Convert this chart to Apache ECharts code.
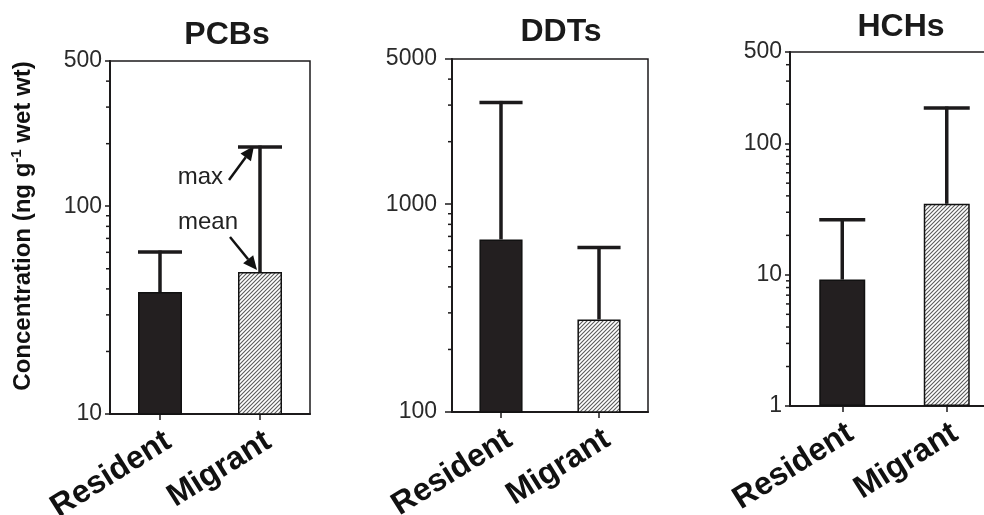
<!DOCTYPE html>
<html>
<head>
<meta charset="utf-8">
<script src="https://cdn.jsdelivr.net/npm/echarts@6/dist/echarts.min.js"></script>
<style>
html,body{margin:0;padding:0;background:#fff;}
#main{width:984px;height:515px;}
</style>
</head>
<body>
<div id="main"></div>
<script>
// ---- data ----
var categories = ['Resident', 'Migrant'];
var panelTitles = ['PCBs', 'DDTs', 'HCHs'];
var pcbMean = [38.6, 48.2];
var pcbMax = [60.2, 192.7];
var ddtMean = [677, 279];
var ddtMax = [3090, 619];
var hchMean = [9.2, 34.8];
var hchMax = [26.3, 187];
var yMins = [10, 100, 1];
var yMaxs = [500, 5000, 500];
var pcbMinorTicks = [20, 30, 40, 50, 60, 70, 80, 90, 200, 300, 400];
var ddtMinorTicks = [200, 300, 400, 500, 600, 700, 800, 900, 2000, 3000, 4000];
var hchMinorTicks = [2, 3, 4, 5, 6, 7, 8, 9, 20, 30, 40, 50, 60, 70, 80, 90, 200, 300, 400];
var yAxisTitle = 'Concentration (ng g-1 wet wt)';

var means = [pcbMean, ddtMean, hchMean];
var maxes = [pcbMax, ddtMax, hchMax];
var minors = [pcbMinorTicks, ddtMinorTicks, hchMinorTicks];

// ---- styling ----
var FONT = "'Liberation Sans', Arial, Helvetica, sans-serif";
var INK = '#1c1a1b';
var grids = [
  {left: 110, top: 61, width: 200, height: 353},
  {left: 452, top: 59, width: 196, height: 353},
  {left: 790, top: 52, width: 209, height: 354}
];
var labelMargins = [8, 15, 8];
var titleX = [227, 561, 901];
var titleY = [19, 16, 11];

// hatch pattern
var hc = document.createElement('canvas');
hc.width = 4; hc.height = 4;
var hx = hc.getContext('2d');
hx.fillStyle = '#ffffff'; hx.fillRect(0, 0, 4, 4);
hx.strokeStyle = '#5a5a5a'; hx.lineWidth = 1.1;
hx.beginPath();
hx.moveTo(-1, 5); hx.lineTo(5, -1);
hx.moveTo(-1, 1); hx.lineTo(1, -1);
hx.moveTo(3, 5); hx.lineTo(5, 3);
hx.stroke();
var hatch = {image: hc, repeat: 'repeat'};

var chart = echarts.init(document.getElementById('main'), null, {renderer: 'canvas'});

var option = {
  animation: false,
  backgroundColor: '#fff',
  grid: grids.map(function (g) {
    return Object.assign({show: true, borderColor: INK, borderWidth: 1.5, backgroundColor: 'transparent',
      containLabel: false, outerBoundsMode: 'none'}, g);
  }),
  xAxis: grids.map(function (g, i) {
    return {
      type: 'category', gridIndex: i, data: categories,
      axisLine: {show: true, lineStyle: {color: INK, width: 2}},
      axisTick: {show: true, alignWithLabel: true, length: 6, lineStyle: {color: INK, width: 1.5}},
      axisLabel: {
        interval: 0, rotate: 32, align: 'right', verticalAlign: 'top', margin: 11,
        fontSize: 32, fontWeight: 'bold', color: '#111', fontFamily: FONT
      },
      splitLine: {show: false}
    };
  }),
  yAxis: grids.map(function (g, i) {
    return {
      type: 'log', logBase: 10, gridIndex: i, min: yMins[i], max: yMaxs[i],
      axisLine: {show: true, lineStyle: {color: INK, width: 2}},
      axisTick: {show: true, length: i === 1 ? 7 : 5, lineStyle: {color: INK, width: 1.5}},
      axisLabel: {
        fontSize: 23, color: '#2a2a2a', margin: labelMargins[i], fontFamily: FONT,
        formatter: function (v) { return String(Math.round(v)); }
      },
      splitLine: {show: false},
      minorTick: {show: false}
    };
  }),
  series: []
};

grids.forEach(function (g, i) {
  option.series.push({
    type: 'bar', xAxisIndex: i, yAxisIndex: i, barWidth: '44%', silent: true,
    itemStyle: {borderColor: '#111', borderWidth: 1.5},
    data: means[i].map(function (v, j) {
      return {value: v, itemStyle: {color: j === 0 ? '#231f20' : hatch}};
    })
  });
  option.series.push({
    type: 'custom', xAxisIndex: i, yAxisIndex: i, silent: true, clip: false, z: 3,
    data: categories.map(function (c, j) { return [j, means[i][j], maxes[i][j]]; }),
    encode: {x: 0, y: 1},
    renderItem: function (params, api) {
      var x = api.value(0);
      var lo = api.coord([x, api.value(1)]);
      var hi = api.coord([x, api.value(2)]);
      var band = Math.abs(api.coord([1, api.value(1)])[0] - api.coord([0, api.value(1)])[0]);
      var w = band * 0.44;
      return {type: 'group', children: [
        {type: 'line', shape: {x1: lo[0], y1: lo[1], x2: hi[0], y2: hi[1] - 1.5}, style: {stroke: INK, lineWidth: 3.5}},
        {type: 'line', shape: {x1: hi[0] - w / 2, y1: hi[1], x2: hi[0] + w / 2, y2: hi[1]}, style: {stroke: INK, lineWidth: 3.5}}
      ]};
    }
  });
  option.series.push({
    type: 'custom', xAxisIndex: i, yAxisIndex: i, silent: true, clip: false, z: 3,
    data: minors[i].map(function (v) { return [0, v]; }),
    encode: {x: 0, y: 1},
    renderItem: function (params, api) {
      var y = api.coord([0, api.value(1)])[1];
      var x0 = params.coordSys.x;
      return {type: 'line', shape: {x1: x0 - 4, y1: y, x2: x0, y2: y}, style: {stroke: INK, lineWidth: 1.5}};
    }
  });
});

chart.setOption(option);

// ---- texts & annotations ----
var graphics = [];
panelTitles.forEach(function (t, i) {
  graphics.push({
    type: 'text', x: titleX[i], y: titleY[i], silent: true,
    style: {text: t, fontSize: 32, fontWeight: 'bold', fontFamily: FONT, fill: '#1a1a1a', align: 'center', verticalAlign: 'top'}
  });
});
var parts = yAxisTitle.split('-1');
graphics.push({
  type: 'text', x: 23, y: 226, rotation: Math.PI / 2, silent: true,
  style: {
    text: '{b|' + parts[0] + '}{s|-1}{b|' + parts[1] + '}',
    align: 'center', verticalAlign: 'middle', fill: '#111',
    rich: {
      b: {fontSize: 24, fontWeight: 'bold', fontFamily: FONT, fill: '#111', lineHeight: 28},
      s: {fontSize: 15, fontWeight: 'bold', fontFamily: FONT, fill: '#111', lineHeight: 14, verticalAlign: 'top'}
    }
  }
});

function arrow(tail, tip) {
  var dx = tip[0] - tail[0], dy = tip[1] - tail[1];
  var L = Math.sqrt(dx * dx + dy * dy);
  var ux = dx / L, uy = dy / L;
  var px = -uy, py = ux;
  var hl = 14, hw = 6.5;
  var bx = tip[0] - ux * hl, by = tip[1] - uy * hl;
  graphics.push({type: 'line', silent: true, shape: {x1: tail[0], y1: tail[1], x2: bx, y2: by}, style: {stroke: '#111', lineWidth: 2.5}});
  graphics.push({type: 'polygon', silent: true, shape: {points: [[tip[0], tip[1]], [bx + px * hw, by + py * hw], [bx - px * hw, by - py * hw]]}, style: {fill: '#111'}});
}
var capPx = chart.convertToPixel({gridIndex: 0}, ['Migrant', pcbMax[1]]);
var meanPx = chart.convertToPixel({gridIndex: 0}, ['Migrant', pcbMean[1]]);
var maxTip = [capPx[0] - 6, capPx[1] - 1];
var maxTail = [maxTip[0] - 25, maxTip[1] + 34];
var meanTip = [meanPx[0] - 3, meanPx[1] - 2];
var meanTail = [meanTip[0] - 27, meanTip[1] - 33];
arrow(maxTail, maxTip);
arrow(meanTail, meanTip);
graphics.push({type: 'text', silent: true, x: maxTail[0] - 6, y: maxTail[1] - 3,
  style: {text: 'max', fontSize: 24, fontFamily: FONT, fill: '#222', align: 'right', verticalAlign: 'middle'}});
graphics.push({type: 'text', silent: true, x: meanTail[0] + 8, y: meanTail[1] - 15,
  style: {text: 'mean', fontSize: 24, fontFamily: FONT, fill: '#222', align: 'right', verticalAlign: 'middle'}});

chart.setOption({graphic: graphics});
</script>
</body>
</html>
